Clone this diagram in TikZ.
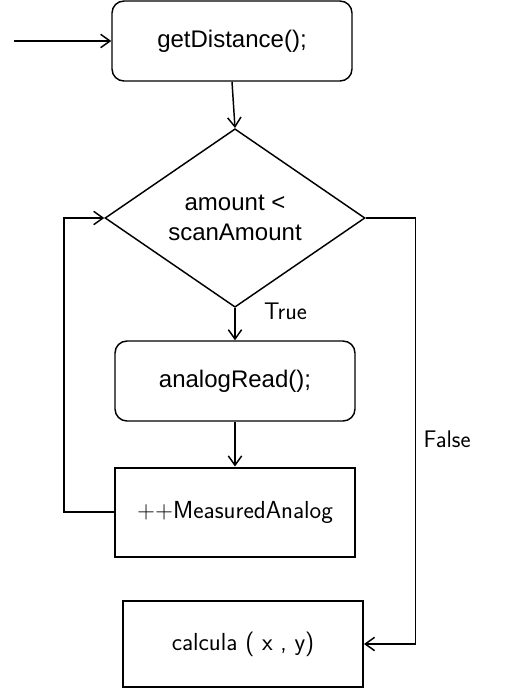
\documentclass[tikz,border=0pt]{standalone}
\usepackage{fontspec}
\setmainfont{Liberation Sans}
\usetikzlibrary{shapes.geometric}
\usetikzlibrary{arrows.meta}

\tikzset{
  proc/.style={draw, line width=1.1pt, rounded corners=9pt, minimum width=180pt, minimum height=60pt, font=\fontsize{18}{22}\selectfont},
  stepbox/.style={draw, line width=1.5pt, minimum width=180pt, font=\sffamily\fontsize{18.5}{22}\selectfont},
  cond/.style={draw, diamond, line width=1.1pt, inner sep=0pt, minimum width=195pt, minimum height=133.5pt, align=center, font=\fontsize{18}{22}\selectfont},
  hand/.style={font=\sffamily\fontsize{18}{21}\selectfont},
  arr/.style={line width=1.1pt, -{Straight Barb[length=7pt,width=10pt,line width=1.1pt]}}
}

\begin{document}
\begin{tikzpicture}[x=0.75pt, y=-0.75pt]
  \useasboundingbox (0,0) rectangle (514,690);

  \node[proc] (dist) at (232,41) {getDistance();};
  \node[cond] (check) at (235,218) {amount <\\scanAmount};
  \node[proc] (read) at (235,381) {analogRead();};
  \node[stepbox, minimum height=66.75pt] (meas) at (235,512) {++MeasuredAnalog};
  \node[stepbox, minimum height=64.5pt] (calc) at (243,644) {calcula (\ x\ ,\ y)};

  \coordinate (start) at (14,41);

  \draw[arr] (start) -- (dist.west);
  \draw[arr] (dist.south) -- (check.north);
  \draw[arr] (check.south) -- node[pos=0.1, right=18pt, hand] {True} (read.north);
  \draw[arr] (read.south) -- (meas.north);
  \draw[arr] (meas.west) -- ++(-50,0) |- (check.west);
  \draw[arr] (check.east) -- ++(50,0) |- node[pos=0.26, right=2pt, hand] {False} (calc.east);

\end{tikzpicture}
\end{document}
